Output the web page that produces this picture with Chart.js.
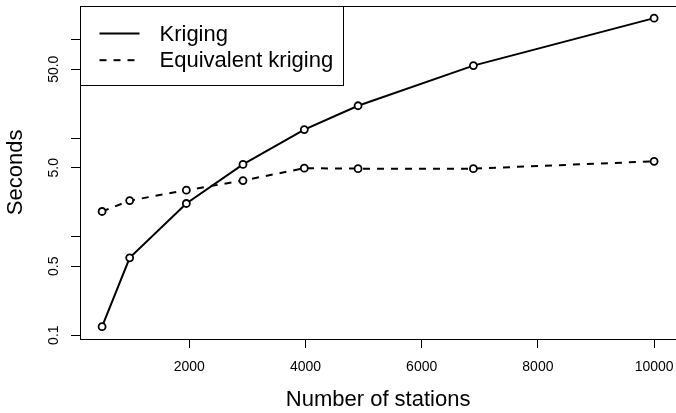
<!DOCTYPE html>
<html><head><meta charset="utf-8">
<script src="https://cdn.jsdelivr.net/npm/chart.js@4/dist/chart.umd.min.js"></script>
<style>html,body{margin:0;padding:0;overflow:hidden;background:#fff;width:676px;height:413px}canvas{display:block}</style>
</head><body>
<canvas id="c" width="682" height="413" style="width:682px;height:413px"></canvas>
<script>
// ---- data ----
const stations = [500, 975, 1950, 2925, 3980, 4905, 6890, 10000];
const krigingSeconds = [0.122, 0.61, 2.17, 5.4, 12.2, 21.3, 54.4, 165];
const equivalentSeconds = [1.80, 2.32, 2.96, 3.71, 4.95, 4.9, 4.9, 5.81];
const xTickValues = [2000, 4000, 6000, 8000, 10000];
const yTickValues = [0.1, 0.5, 1, 5, 10, 50, 100];
const yTickLabels = ['0.1', '0.5', '', '5.0', '', '50.0', ''];
const seriesNames = ['Kriging', 'Equivalent kriging'];
const xTitle = 'Number of stations';
const yTitle = 'Seconds';

// R-style 4% range extension
const xLo = Math.min(...stations), xHi = Math.max(...stations);
const xPad = 0.04 * (xHi - xLo);
const allY = krigingSeconds.concat(equivalentSeconds);
const lLo = Math.log10(Math.min(...allY)), lHi = Math.log10(Math.max(...allY));
const lPad = 0.04 * (lHi - lLo);

const FONT = "'Liberation Sans', Arial, Helvetica, sans-serif";
Chart.defaults.font.family = FONT;
Chart.defaults.color = '#000';

const toPts = (ys) => stations.map((x, i) => ({x: x, y: ys[i]}));

const boxPlugin = {
  id: 'box',
  beforeDatasetsDraw(chart) {
    const {ctx, chartArea: a} = chart;
    ctx.save();
    ctx.strokeStyle = '#000';
    ctx.lineWidth = 1;
    ctx.strokeRect(Math.round(a.left) + 0.5, Math.round(a.top) + 0.5,
                   Math.round(a.right - a.left), Math.round(a.bottom - a.top));
    ctx.restore();
  }
};

const legendPlugin = {
  id: 'rlegend',
  afterDatasetsDraw(chart) {
    const {ctx, chartArea: a} = chart;
    const L = Math.round(a.left) + 0.5, T = Math.round(a.top) + 0.5;
    ctx.save();
    ctx.fillStyle = '#fff';
    ctx.fillRect(L, T, 263, 79);
    ctx.strokeStyle = '#000';
    ctx.lineWidth = 1;
    ctx.strokeRect(L, T, 263, 79);
    chart.data.datasets.forEach((ds, i) => {
      const y = T + 27 + i * 26.7;
      ctx.beginPath();
      ctx.setLineDash(ds.borderDash || []);
      ctx.lineWidth = ds.borderWidth;
      ctx.strokeStyle = ds.borderColor;
      ctx.moveTo(L + 19, y);
      ctx.lineTo(L + 59, y);
      ctx.stroke();
      ctx.setLineDash([]);
      ctx.fillStyle = '#000';
      ctx.font = '22px ' + FONT;
      ctx.textBaseline = 'middle';
      ctx.textAlign = 'left';
      ctx.fillText(ds.label, L + 79, y + 1);
    });
    ctx.restore();
  }
};

new Chart(document.getElementById('c'), {
  type: 'line',
  data: {
    datasets: [
      {label: seriesNames[0], data: toPts(krigingSeconds), borderColor: '#000', borderWidth: 2,
       pointRadius: 3.5, pointBorderWidth: 1.8, pointBackgroundColor: '#fff', pointBorderColor: '#000', tension: 0},
      {label: seriesNames[1], data: toPts(equivalentSeconds), borderColor: '#000', borderWidth: 2, borderDash: [7, 7],
       pointRadius: 3.5, pointBorderWidth: 1.8, pointBackgroundColor: '#fff', pointBorderColor: '#000', tension: 0}
    ]
  },
  options: {
    responsive: false,
    animation: false,
    devicePixelRatio: 1,
    layout: {padding: {top: 5, right: 3, left: 0, bottom: 0}},
    plugins: {legend: {display: false}, tooltip: {enabled: false}},
    scales: {
      x: {
        type: 'linear',
        min: xLo - xPad, max: xHi + xPad,
        afterBuildTicks(s) { s.ticks = xTickValues.map(v => ({value: v})); },
        afterFit(s) { s.height = 74; s.paddingLeft = 0; s.paddingRight = 0; },
        ticks: {autoSkip: false, font: {size: 14}, padding: 11, maxRotation: 0, callback: (v) => String(v)},
        grid: {display: true, drawOnChartArea: false, drawTicks: true, tickLength: 9, color: '#000', lineWidth: 1},
        border: {display: false},
        title: {display: true, text: xTitle, font: {size: 22}, padding: {top: 0, bottom: 0}}
      },
      y: {
        type: 'logarithmic',
        min: Math.pow(10, lLo - lPad), max: Math.pow(10, lHi + lPad),
        afterBuildTicks(s) { s.ticks = yTickValues.map(v => ({value: v})); },
        afterFit(s) { s.width = 80; s.paddingTop = 0; s.paddingBottom = 0; },
        ticks: {autoSkip: false, font: {size: 14}, padding: 3, minRotation: 90, maxRotation: 90,
                crossAlign: 'center', callback: (v, i) => yTickLabels[i]},
        grid: {display: true, drawOnChartArea: false, drawTicks: true, tickLength: 9, color: '#000', lineWidth: 1},
        border: {display: false},
        title: {display: true, text: yTitle, font: {size: 22}, padding: {top: 3, bottom: 0}}
      }
    }
  },
  plugins: [boxPlugin, legendPlugin]
});
</script>
</body></html>
